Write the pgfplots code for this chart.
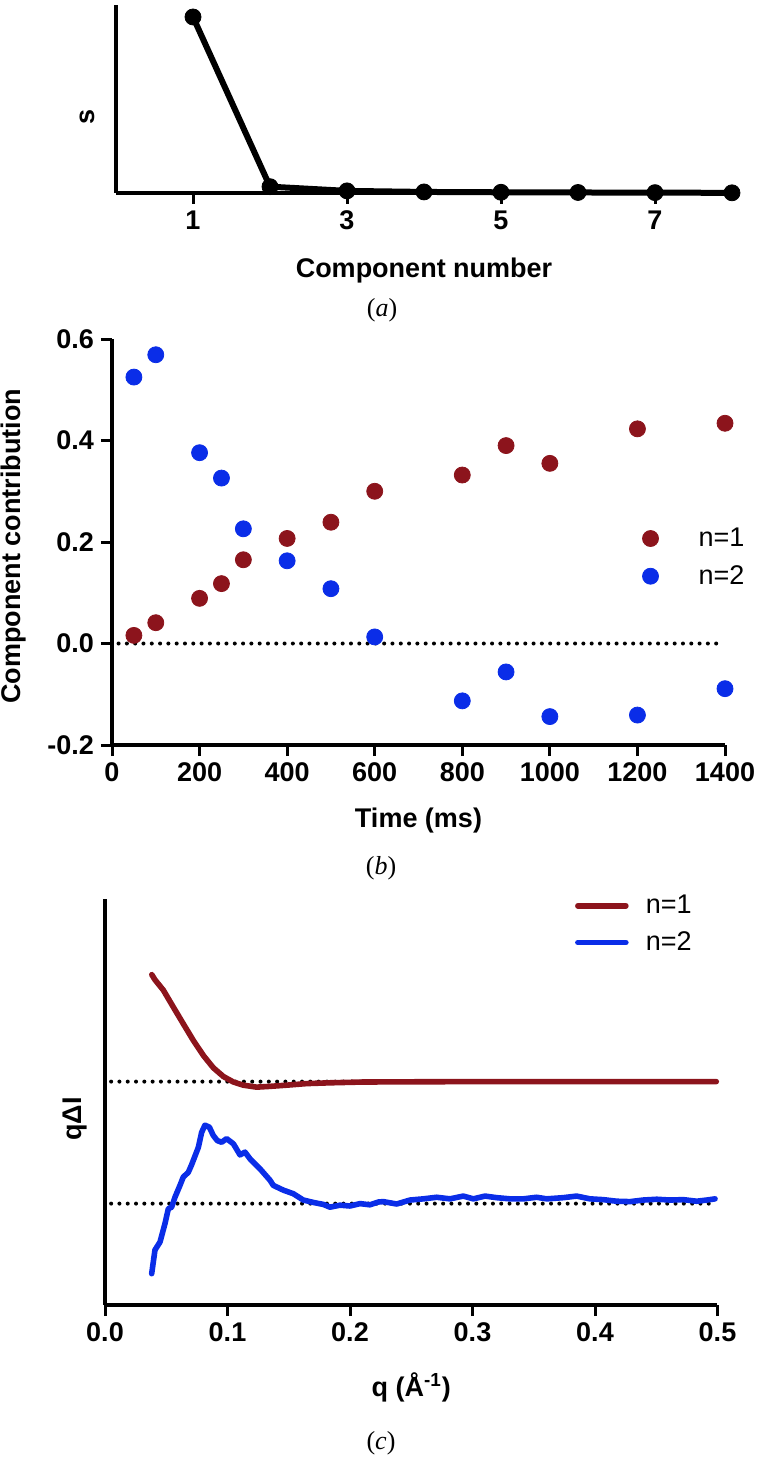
\documentclass[border=0pt]{standalone}
\usepackage{fontspec}
\setmainfont{Liberation Sans}
\newfontfamily\capfont{Liberation Serif}
\usepackage{pgfplots}
\pgfplotsset{compat=1.18}
\definecolor{dred}{RGB}{140,20,28}
\definecolor{dblue}{RGB}{10,45,232}
\newcommand{\lblfont}{\fontsize{13.5}{16}\selectfont\bfseries}
\pgfplotsset{
  panel/.style={
    scale only axis, anchor=south west, clip=false,
    axis lines=left,
    axis line style={line width=1.6pt,-},
    tick align=outside, major tick length=5.5pt,
    xtick style={black, line width=1.5pt},
    ytick style={black, line width=1.5pt},
    tick label style={font=\lblfont},
    label style={font=\lblfont},
  },
  dots/.style={black, line width=2pt, line cap=round, dash pattern=on 0pt off 4.15pt, forget plot},
  tk/.style={black, line width=1.5pt, forget plot},
}
\begin{document}
\begin{tikzpicture}

% (a) scree plot
\begin{axis}[panel, at={(58pt,-96.5pt)}, width=308pt, height=94pt,
  xmin=0, xmax=8, ymin=0, ymax=1.068,
  xtick={1,3,5,7}, xticklabels={1,3,5,7}, ytick=\empty,
  xlabel={Component number}, ylabel={s},
  xlabel style={at={(axis description cs:0.5,-0.41)}, anchor=center},
  ylabel style={at={(axis description cs:-0.047,0.404)}, anchor=center}]
\addplot[tk] coordinates {(1,0)(1,-0.0625)};
\addplot[tk] coordinates {(3,0)(3,-0.0625)};
\addplot[tk] coordinates {(5,0)(5,-0.0625)};
\addplot[tk] coordinates {(7,0)(7,-0.0625)};
\addplot[black, line width=3pt, line join=round, mark=*, mark size=4pt, mark options={line width=0.4pt}]
  coordinates {(1,1.0)(2,0.036)(3,0.012)(4,0.006)(5,0.004)(6,0.003)(7,0.002)(8,0.001)};
\end{axis}
\node[font=\capfont\fontsize{13}{15}\selectfont] at (191pt,-155pt) {(\textit{a})};

% (b) contributions
\begin{axis}[panel, at={(56pt,-372.5pt)}, width=306.5pt, height=203pt,
  xmin=0, xmax=1400, ymin=-0.2, ymax=0.6,
  xtick={0,200,400,600,800,1000,1200,1400},
  xticklabels={0,200,400,600,800,1000,1200,1400},
  ytick={-0.2,0,0.2,0.4,0.6}, yticklabels={-0.2,0.0,0.2,0.4,0.6},
  xlabel={Time (ms)}, ylabel={Component contribution},
  xlabel style={at={(axis description cs:0.5,-0.187)}, anchor=center},
  ylabel style={at={(axis description cs:-0.16,0.49)}, anchor=center},
  legend style={draw=none, fill=none, at={(axis description cs:0.855,0.462)}, anchor=west,
    font=\fontsize{13.5}{16}\selectfont, row sep=4pt},
  legend cell align=left,
  legend image code/.code={\draw[#1] plot coordinates {(0pt,0pt)}; \path[draw=none] (-4pt,-1pt) rectangle (22pt,1pt);}]
\foreach \t in {0,200,400,600,800,1000,1200,1400} {
  \edef\tmp{\noexpand\addplot[tk] coordinates {(\t,-0.2)(\t,-0.2217)};}\tmp
}
\foreach \v in {-0.2,0,0.2,0.4,0.6} {
  \edef\tmp{\noexpand\addplot[tk] coordinates {(0,\v)(-25,\v)};}\tmp
}
\addplot[dots] coordinates {(15,0)(1390,0)};
\addplot[only marks, mark=*, mark size=4pt, color=dred] coordinates {
  (50,0.016)(100,0.041)(200,0.089)(250,0.118)(300,0.165)(400,0.207)(500,0.239)
  (600,0.300)(800,0.332)(900,0.390)(1000,0.355)(1200,0.423)(1400,0.434)};
\addplot[only marks, mark=*, mark size=4pt, color=dblue] coordinates {
  (50,0.525)(100,0.569)(200,0.376)(250,0.326)(300,0.226)(400,0.163)(500,0.108)
  (600,0.013)(800,-0.113)(900,-0.056)(1000,-0.144)(1200,-0.141)(1400,-0.089)};
\legend{n=1,n=2}
\end{axis}
\node[font=\capfont\fontsize{13}{15}\selectfont] at (190.5pt,-434pt) {(\textit{b})};

% (c) component curves
\begin{axis}[panel, at={(52.5pt,-652.5pt)}, width=306.25pt, height=203pt,
  xmin=0, xmax=0.5, ymin=0, ymax=10.25,
  xtick={0,0.1,0.2,0.3,0.4,0.5}, xticklabels={0.0,0.1,0.2,0.3,0.4,0.5}, ytick=\empty,
  xlabel={q (Å\textsuperscript{-1})}, ylabel={qΔI},
  xlabel style={at={(axis description cs:0.5,-0.203)}, anchor=center},
  ylabel style={at={(axis description cs:-0.049,0.458)}, anchor=center},
  legend style={draw=none, fill=none, at={(axis description cs:0.757,0.938)}, anchor=west,
    font=\fontsize{13.5}{16}\selectfont, row sep=3.5pt},
  legend cell align=left,
  legend image code/.code={\draw[#1, line cap=round] (0pt,0pt) -- (24pt,0pt); \path[draw=none] (0pt,-1pt) rectangle (32pt,1pt);}]
\foreach \t in {0,0.1,0.2,0.3,0.4,0.5} {
  \edef\tmp{\noexpand\addplot[tk] coordinates {(\t,0)(\t,-0.278)};}\tmp
}
\addplot[dots] coordinates {(0.005,5.64)(0.497,5.64)};
\addplot[dots] coordinates {(0.005,2.56)(0.497,2.56)};
\addplot[dred, line width=2.8pt, line cap=round, line join=round] coordinates {
  (0.0382,8.34)(0.0408,8.21)(0.0476,7.95)(0.0558,7.52)(0.0639,7.10)(0.0721,6.68)
  (0.0803,6.30)(0.0884,5.99)(0.0966,5.77)(0.1048,5.63)(0.1129,5.55)(0.1238,5.50)
  (0.1347,5.52)(0.1483,5.55)(0.1646,5.59)(0.1837,5.61)(0.2109,5.63)(0.25,5.635)
  (0.3,5.64)(0.35,5.64)(0.4,5.64)(0.45,5.64)(0.499,5.64)};
\addplot[dblue, line width=2.8pt, line cap=round, line join=round] coordinates {
  (0.0381,0.79)(0.0408,1.39)(0.0449,1.59)(0.0490,2.06)(0.0517,2.43)(0.0544,2.47)
  (0.0571,2.72)(0.0612,3.02)(0.0639,3.23)(0.0680,3.35)(0.0707,3.54)(0.0762,3.98)
  (0.0789,4.36)(0.0816,4.54)(0.0852,4.49)(0.0884,4.28)(0.0917,4.15)(0.0952,4.11)
  (0.0993,4.20)(0.1048,4.07)(0.1102,3.79)(0.1143,3.86)(0.1184,3.69)(0.1265,3.44)
  (0.1347,3.15)(0.1374,3.02)(0.1456,2.90)(0.1537,2.81)(0.1619,2.65)(0.1700,2.59)
  (0.1782,2.54)(0.1837,2.47)(0.1918,2.52)(0.2000,2.50)(0.2082,2.56)(0.2163,2.53)
  (0.2231,2.60)(0.2272,2.61)(0.2381,2.55)(0.2490,2.65)(0.2598,2.68)(0.2708,2.72)
  (0.2816,2.68)(0.2925,2.75)(0.3007,2.68)(0.3102,2.75)(0.3198,2.71)(0.3306,2.68)
  (0.3415,2.68)(0.3524,2.72)(0.3606,2.68)(0.3741,2.71)(0.3850,2.75)(0.3959,2.68)
  (0.4068,2.66)(0.4177,2.62)(0.4286,2.61)(0.4394,2.65)(0.4504,2.67)(0.4612,2.65)
  (0.4721,2.66)(0.4830,2.62)(0.4912,2.65)(0.4980,2.68)};
\legend{n=1,n=2}
\end{axis}
\node[font=\capfont\fontsize{13}{15}\selectfont] at (190.5pt,-721.5pt) {(\textit{c})};
\pgfresetboundingbox
\path[use as bounding box] (0,0) rectangle (378pt,-735pt);
\end{tikzpicture}
\end{document}
